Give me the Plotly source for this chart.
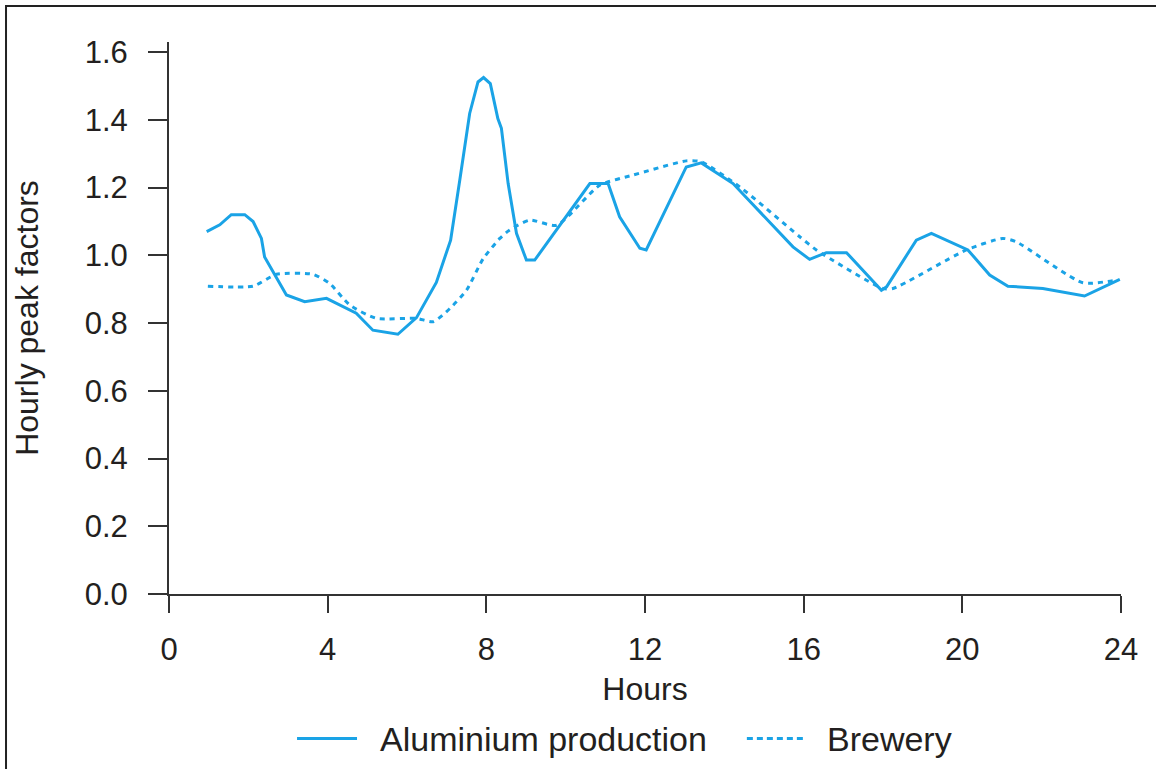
import plotly.graph_objects as go

# Hourly peak factors over a 24-hour day
alu_hours = [0.95, 1.28, 1.57, 1.91, 2.12, 2.33, 2.41, 2.96, 3.42, 3.97, 4.72, 5.14,
             5.77, 6.24, 6.74, 7.10, 7.33, 7.58, 7.79, 7.93, 8.10, 8.29, 8.38, 8.55,
             8.76, 9.01, 9.22, 10.61, 11.07, 11.36, 11.87, 12.03, 13.04, 13.42, 14.22,
             15.73, 16.15, 16.57, 17.08, 17.96, 18.09, 18.84, 19.22, 20.14, 20.69,
             21.15, 22.03, 23.08, 23.97]
alu_values = [1.07, 1.09, 1.12, 1.12, 1.10, 1.05, 0.995, 0.883, 0.863, 0.873, 0.829,
              0.779, 0.767, 0.816, 0.92, 1.045, 1.222, 1.419, 1.512, 1.525, 1.507,
              1.404, 1.375, 1.212, 1.065, 0.986, 0.986, 1.212, 1.212, 1.114, 1.021,
              1.016, 1.261, 1.273, 1.212, 1.025, 0.988, 1.008, 1.008, 0.897, 0.907,
              1.045, 1.065, 1.016, 0.942, 0.909, 0.902, 0.880, 0.929]

brew_hours = [0.98, 2.12, 2.71, 3.63, 4.05, 4.56, 5.23, 6.24, 6.66, 7.08, 7.50, 7.92,
              8.34, 8.59, 9.09, 9.77, 10.86, 11.70, 13.04, 13.42, 14.39, 15.90, 16.32,
              18.0, 18.25, 20.1, 21.02, 21.36, 23.04, 23.88]
brew_values = [0.909, 0.909, 0.944, 0.944, 0.917, 0.853, 0.814, 0.814, 0.804, 0.843,
               0.897, 0.99, 1.05, 1.075, 1.104, 1.089, 1.207, 1.237, 1.279, 1.276,
               1.202, 1.055, 1.016, 0.902, 0.902, 1.016, 1.05, 1.04, 0.919, 0.927]

series_names = ["Aluminium production", "Brewery"]
x_ticks = [0, 4, 8, 12, 16, 20, 24]
y_ticks = [0.0, 0.2, 0.4, 0.6, 0.8, 1.0, 1.2, 1.4, 1.6]

BLUE = "#1AA3E6"
INK = "#231F20"
AXIS = "#333333"
FONT = "Liberation Sans, Arial, sans-serif"

fig = go.Figure()
fig.add_trace(go.Scatter(x=alu_hours, y=alu_values, mode="lines", name=series_names[0],
                         line=dict(color=BLUE, width=3), showlegend=False))
fig.add_trace(go.Scatter(x=brew_hours, y=brew_values, mode="lines", name=series_names[1],
                         line=dict(color=BLUE, width=3, dash="5px,5px", shape="spline",
                                   smoothing=0.6), showlegend=False))

# hand-laid legend row below the axis title
leg_y = -0.262
fig.add_shape(type="line", xref="paper", yref="paper", x0=0.1345, x1=0.1975,
              y0=leg_y, y1=leg_y, line=dict(color=BLUE, width=3))
fig.add_shape(type="line", xref="paper", yref="paper", x0=0.607, x1=0.666,
              y0=leg_y, y1=leg_y, line=dict(color=BLUE, width=3, dash="6px,4px"))
fig.add_annotation(text=series_names[0], xref="paper", yref="paper", x=0.2195, y=leg_y,
                   xanchor="left", yanchor="middle", showarrow=False,
                   font=dict(family=FONT, size=34, color=INK))
fig.add_annotation(text=series_names[1], xref="paper", yref="paper", x=0.689, y=leg_y,
                   xanchor="left", yanchor="middle", showarrow=False,
                   font=dict(family=FONT, size=34, color=INK))

# outer frame
fig.add_shape(type="rect", xref="paper", yref="paper", x0=-0.1712, x1=1.06,
              y0=-0.36, y1=1.0652, line=dict(color="#222222", width=2),
              fillcolor="rgba(0,0,0,0)", layer="above")

fig.update_layout(
    width=1156, height=769,
    margin=dict(l=169, r=35, t=42, b=175),
    paper_bgcolor="white", plot_bgcolor="white",
    font=dict(family=FONT, size=31, color=INK),
    xaxis=dict(range=[0, 24], tickvals=x_ticks, showgrid=False, zeroline=False,
               showline=True, linecolor=AXIS, linewidth=2, ticks="outside",
               ticklen=17, tickwidth=2, tickcolor=AXIS, ticklabelstandoff=10,
               title=dict(text="Hours", standoff=11, font=dict(size=32))),
    yaxis=dict(range=[0, 1.63], tickvals=y_ticks, tickformat=".1f", showgrid=False,
               zeroline=False, showline=True, linecolor=AXIS, linewidth=2,
               ticks="outside", ticklen=19, tickwidth=2, tickcolor=AXIS,
               ticklabelstandoff=14,
               title=dict(text="Hourly peak factors", standoff=36, font=dict(size=32))),
)

fig.write_html("out.html")
